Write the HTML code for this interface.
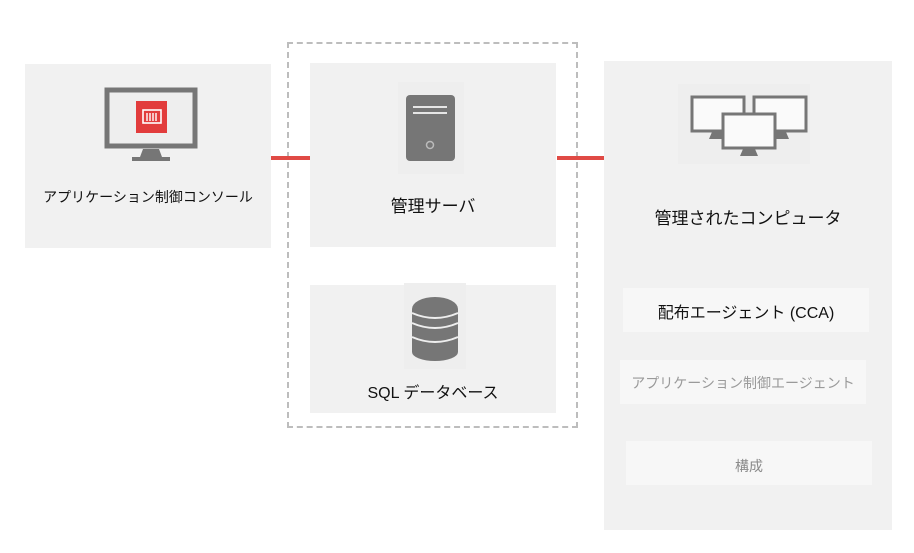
<!DOCTYPE html>
<html><head><meta charset="utf-8"><style>
body{margin:0;width:914px;height:553px;background:#fff;position:relative;overflow:hidden;font-family:"Liberation Sans","Noto Sans CJK JP",sans-serif;color:#111}
.b{position:absolute;background:#f1f1f1}
.t{position:absolute;text-align:center;white-space:nowrap}
.r{position:absolute;background:#e04a45;height:4px}
</style></head><body>
<div class="b" style="left:25px;top:64px;width:246px;height:184px"></div>
<svg style="position:absolute;left:95px;top:82px" width="112" height="86">
<rect x="12" y="8" width="88" height="56" fill="#eeeeee" stroke="#767676" stroke-width="5"/>
<rect x="41" y="19" width="31" height="32" fill="#e23c3c"/>
<rect x="48" y="28" width="18" height="13" fill="none" stroke="#fff" stroke-width="1.6"/>
<path d="M52 31v8M55 31v8M58 31v8M61 31v8" stroke="#fff" stroke-width="1.4"/>
<path d="M48 67h16l3 8h8v4H37v-4h8z" fill="#767676"/>
</svg>
<div class="t" style="left:25px;width:246px;top:187px;font-size:14px">アプリケーション制御コンソール</div>

<div style="position:absolute;left:287px;top:42px;width:287px;height:382px;border:2px dashed #bdbdbd"></div>
<div class="b" style="left:310px;top:63px;width:246px;height:184px"></div>
<svg style="position:absolute;left:398px;top:82px" width="66" height="94">
<rect x="0" y="0" width="66" height="92" fill="#eeeeee"/>
<rect x="8" y="13" width="49" height="66" rx="4" fill="#767676"/>
<path d="M15 25h34M15 31h34" stroke="#e6e6e6" stroke-width="2"/>
<circle cx="32" cy="63" r="3.5" fill="none" stroke="#bbb" stroke-width="1.5"/>
</svg>
<div class="t" style="left:310px;width:246px;top:192px;font-size:17px">管理サーバ</div>

<div class="b" style="left:310px;top:285px;width:246px;height:128px"></div>
<svg style="position:absolute;left:404px;top:283px" width="62" height="86">
<rect x="0" y="0" width="62" height="86" fill="#eeeeee"/>
<ellipse cx="31" cy="26" rx="23" ry="12" fill="#767676"/>
<rect x="8" y="26" width="46" height="43" fill="#767676"/>
<ellipse cx="31" cy="69" rx="23" ry="9" fill="#767676"/>
<path d="M8 40q23 10 46 0M8 54q23 10 46 0M8 30q23 10 46 0" stroke="#eeeeee" stroke-width="2" fill="none"/>
</svg>
<div class="t" style="left:310px;width:246px;top:379px;font-size:16px">SQL データベース</div>

<div class="r" style="left:271px;top:156px;width:39px"></div>
<div class="r" style="left:557px;top:156px;width:47px"></div>

<div class="b" style="left:604px;top:61px;width:288px;height:469px"></div>
<svg style="position:absolute;left:678px;top:84px" width="132" height="80">
<rect x="0" y="0" width="132" height="80" fill="#eeeeee"/>
<g fill="#fafafa" stroke="#767676" stroke-width="3">
<rect x="14" y="13" width="52" height="34"/><rect x="76" y="13" width="52" height="34"/>
</g>
<path d="M34 48h12l3 7H31zM96 48h12l3 7H93z" fill="#767676"/>
<rect x="45" y="30" width="52" height="34" fill="#fafafa" stroke="#767676" stroke-width="3"/>
<path d="M65 65h12l3 7H62z" fill="#767676"/>
</svg>
<div class="t" style="left:604px;width:288px;top:204px;font-size:17px">管理されたコンピュータ</div>
<div class="b" style="left:623px;top:288px;width:246px;height:44px;background:#f7f7f7"></div>
<div class="t" style="left:623px;width:246px;top:299px;font-size:16px">配布エージェント (CCA)</div>
<div class="b" style="left:620px;top:360px;width:246px;height:44px;background:#f7f7f7"></div>
<div class="t" style="left:620px;width:246px;top:373px;font-size:14px;color:#9a9a9a">アプリケーション制御エージェント</div>
<div class="b" style="left:626px;top:441px;width:246px;height:44px;background:#f7f7f7"></div>
<div class="t" style="left:626px;width:246px;top:456px;font-size:14px;color:#8a8a8a">構成</div>
</body></html>
